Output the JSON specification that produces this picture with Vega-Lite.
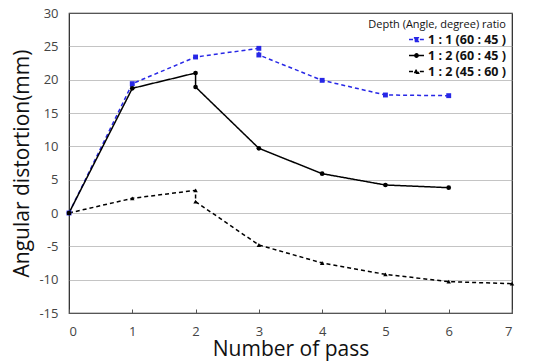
{
  "$schema": "https://vega.github.io/schema/vega-lite/v6.json",
  "width": 443,
  "height": 300,
  "autosize": {"type": "none"},
  "padding": {"left": 69, "top": 13, "right": 40, "bottom": 49},
  "config": {
    "font": "Open Sans",
    "view": {"stroke": "#222", "strokeWidth": 1.2},
    "axis": {"labelFont": "Open Sans", "titleFont": "Open Sans"}
  },
  "data": {
    "values": [
      {"series": "1 : 1 (60 : 45 )", "o": 1, "pass": 0, "d": 0},
      {"series": "1 : 1 (60 : 45 )", "o": 2, "pass": 1, "d": 19.4},
      {"series": "1 : 1 (60 : 45 )", "o": 3, "pass": 2, "d": 23.4},
      {"series": "1 : 1 (60 : 45 )", "o": 4, "pass": 3, "d": 24.7},
      {"series": "1 : 1 (60 : 45 )", "o": 5, "pass": 3, "d": 23.7},
      {"series": "1 : 1 (60 : 45 )", "o": 6, "pass": 4, "d": 19.9},
      {"series": "1 : 1 (60 : 45 )", "o": 7, "pass": 5, "d": 17.7},
      {"series": "1 : 1 (60 : 45 )", "o": 8, "pass": 6, "d": 17.6},
      {"series": "1 : 2 (60 : 45 )", "o": 1, "pass": 0, "d": 0},
      {"series": "1 : 2 (60 : 45 )", "o": 2, "pass": 1, "d": 18.7},
      {"series": "1 : 2 (60 : 45 )", "o": 3, "pass": 2, "d": 21.0},
      {"series": "1 : 2 (60 : 45 )", "o": 4, "pass": 2, "d": 18.9},
      {"series": "1 : 2 (60 : 45 )", "o": 5, "pass": 3, "d": 9.7},
      {"series": "1 : 2 (60 : 45 )", "o": 6, "pass": 4, "d": 5.9},
      {"series": "1 : 2 (60 : 45 )", "o": 7, "pass": 5, "d": 4.2},
      {"series": "1 : 2 (60 : 45 )", "o": 8, "pass": 6, "d": 3.8},
      {"series": "1 : 2 (45 : 60 )", "o": 1, "pass": 0, "d": 0},
      {"series": "1 : 2 (45 : 60 )", "o": 2, "pass": 1, "d": 2.2},
      {"series": "1 : 2 (45 : 60 )", "o": 3, "pass": 2, "d": 3.4},
      {"series": "1 : 2 (45 : 60 )", "o": 4, "pass": 2, "d": 1.7},
      {"series": "1 : 2 (45 : 60 )", "o": 5, "pass": 3, "d": -4.8},
      {"series": "1 : 2 (45 : 60 )", "o": 6, "pass": 4, "d": -7.5},
      {"series": "1 : 2 (45 : 60 )", "o": 7, "pass": 5, "d": -9.2},
      {"series": "1 : 2 (45 : 60 )", "o": 8, "pass": 6, "d": -10.3},
      {"series": "1 : 2 (45 : 60 )", "o": 9, "pass": 7, "d": -10.6}
    ]
  },
  "encoding": {
    "x": {
      "field": "pass", "type": "quantitative",
      "scale": {"domain": [0, 7], "nice": false},
      "axis": {
        "title": "Number of pass", "values": [0,1,2,3,4,5,6,7], "grid": false,
        "domain": false, "tickColor": "#555", "tickSize": -4,
        "labelFontSize": 13, "labelColor": "#444", "labelPadding": 16,
        "titleFontSize": 21, "titleFontWeight": "normal", "titleColor": "#111", "titlePadding": 0
      }
    },
    "y": {
      "field": "d", "type": "quantitative",
      "scale": {"domain": [-15, 30], "nice": false},
      "axis": {
        "title": "Angular distortion(mm)", "values": [-15,-10,-5,0,5,10,15,20,25,30],
        "labelExpr": "datum.value + ''",
        "grid": true, "gridColor": "#888", "gridDash": [1, 1], "gridWidth": 1,
        "domain": false, "ticks": false,
        "labelFontSize": 13, "labelColor": "#444", "labelPadding": 11,
        "titleFontSize": 21, "titleFontWeight": "normal", "titleColor": "#111", "titlePadding": 6
      }
    },
    "color": {
      "field": "series", "type": "nominal",
      "scale": {"domain": ["1 : 1 (60 : 45 )", "1 : 2 (60 : 45 )", "1 : 2 (45 : 60 )"], "range": ["#2727e6", "#000000", "#000000"]},
      "legend": {
        "title": "Depth (Angle, degree) ratio", "orient": "top-right", "offset": 0,
        "titleFontSize": 11, "titleFontWeight": "normal", "titleColor": "#111", "titleAnchor": "end", "titlePadding": 1,
        "labelFontSize": 12.5, "labelFontWeight": "bold", "labelColor": "#111", "labelOffset": 3,
        "rowPadding": 1, "symbolSize": 225, "symbolStrokeWidth": 1.5, "padding": 6,
        "encode": {
          "symbols": {
            "update": {
              "shape": {"signal": "datum.value === '1 : 1 (60 : 45 )' ? 'M-1,0H-0.45M0.45,0H1M-0.25,-0.25H0.25V0.25H-0.25Z' : datum.value === '1 : 2 (60 : 45 )' ? 'M-1,0H1M-0.22,0A0.22,0.22 0 1,0 0.22,0A0.22,0.22 0 1,0 -0.22,0Z' : 'M-1,0H-0.45M0.45,0H1M-0.27,0.22L0,-0.27L0.27,0.22Z'"},
              "fill": {"signal": "datum.value === '1 : 1 (60 : 45 )' ? '#2727e6' : '#000000'"},
              "stroke": {"signal": "datum.value === '1 : 1 (60 : 45 )' ? '#2727e6' : '#000000'"},
              "strokeDash": {"value": []},
              "opacity": {"value": 1},
              "fillOpacity": {"value": 1}
            }
          }
        }
      }
    }
  },
  "layer": [
    {
      "mark": {"type": "line", "strokeWidth": 1.5},
      "encoding": {
        "order": {"field": "o", "type": "quantitative"},
        "strokeDash": {
          "field": "series", "type": "nominal",
          "scale": {"domain": ["1 : 1 (60 : 45 )", "1 : 2 (60 : 45 )", "1 : 2 (45 : 60 )"], "range": [[4, 3], [1, 0], [4, 3]]},
          "legend": null
        }
      }
    },
    {
      "transform": [{"filter": "datum.series === '1 : 1 (60 : 45 )'"}],
      "mark": {"type": "point", "filled": true, "opacity": 1, "shape": "square", "size": 24}
    },
    {
      "transform": [{"filter": "datum.series === '1 : 2 (60 : 45 )'"}],
      "mark": {"type": "point", "filled": true, "opacity": 1, "shape": "circle", "size": 22}
    },
    {
      "transform": [{"filter": "datum.series === '1 : 2 (45 : 60 )'"}],
      "mark": {"type": "point", "filled": true, "opacity": 1, "shape": "triangle-up", "size": 20}
    }
  ]
}
